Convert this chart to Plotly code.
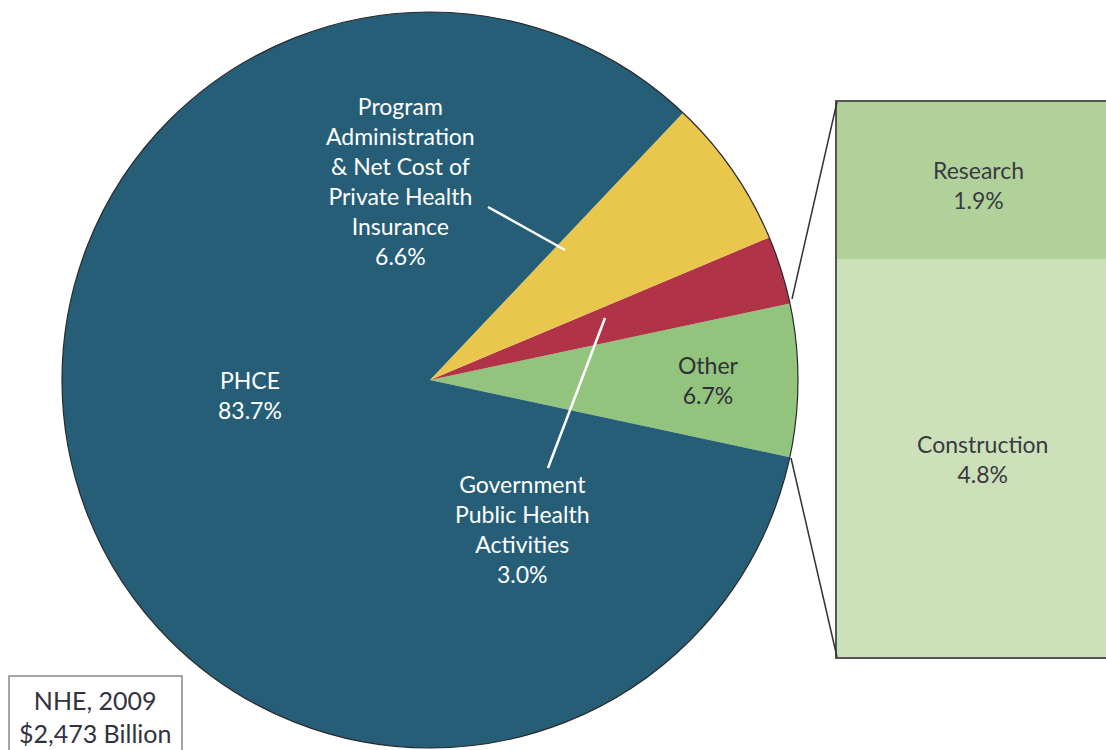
import plotly.graph_objects as go

# ---- data ----
pie_labels = ["Other", "Government Public Health Activities",
              "Program Administration & Net Cost of Private Health Insurance", "PHCE"]
pie_values = [6.7, 3.0, 6.6, 83.7]
pie_colors = ["#93C47D", "#B03347", "#E9C74C", "#265E78"]

other_labels = ["Construction", "Research"]
other_values = [4.8, 1.9]
other_colors = ["#CCE1BA", "#B0D29A"]

W, H = 1106, 750
FONT = "Lato"

def px(x):
    return x / W

def py(y):
    return 1 - y / H

fig = go.Figure()

fig.add_trace(go.Pie(
    labels=pie_labels, values=pie_values, sort=False,
    direction="counterclockwise", rotation=78,
    marker=dict(colors=pie_colors, line=dict(width=0)),
    textinfo="none", hoverinfo="label+percent", showlegend=False,
    domain=dict(x=[px(62), px(798)], y=[py(748), py(12)]),
))
# outline circle
fig.add_trace(go.Pie(
    labels=["NHE"], values=[1], sort=False,
    marker=dict(colors=["rgba(0,0,0,0)"], line=dict(color="#2a2a2a", width=1.2)),
    textinfo="none", hoverinfo="skip", showlegend=False,
    domain=dict(x=[px(62), px(798)], y=[py(748), py(12)]),
))

for lab, val, col in zip(other_labels, other_values, other_colors):
    fig.add_trace(go.Bar(
        x=["Other"], y=[val], name=lab, width=1,
        marker=dict(color=col, line=dict(width=0)),
        xaxis="x2", yaxis="y2", showlegend=False, hoverinfo="name+y",
    ))

fig.update_layout(
    width=W, height=H, margin=dict(l=0, r=0, t=0, b=0),
    paper_bgcolor="white", plot_bgcolor="white",
    barmode="stack",
    font=dict(family=FONT),
    xaxis2=dict(domain=[px(837), 1.0], range=[-0.5, 0.5], showticklabels=False,
                showgrid=False, zeroline=False, showline=True, mirror=True,
                linecolor="#555555", linewidth=1.5, anchor="y2", fixedrange=True),
    yaxis2=dict(domain=[py(657), py(102)], range=[0, sum(other_values)],
                showticklabels=False, showgrid=False, zeroline=False,
                showline=True, mirror=False, linecolor="#555555", linewidth=1.5,
                anchor="x2", fixedrange=True),
)

shapes = [
    # connector lines
    dict(type="line", xref="paper", yref="paper", x0=px(792), y0=py(299), x1=px(837), y1=py(102),
         line=dict(color="#333333", width=1.5)),
    dict(type="line", xref="paper", yref="paper", x0=px(791), y0=py(458), x1=px(837), y1=py(657),
         line=dict(color="#333333", width=1.5)),
    # leader lines
    dict(type="line", xref="paper", yref="paper", x0=px(488), y0=py(207), x1=px(565), y1=py(250),
         line=dict(color="white", width=2.5)),
    dict(type="line", xref="paper", yref="paper", x0=px(548), y0=py(468), x1=px(605), y1=py(318),
         line=dict(color="white", width=2.5)),
    # NHE box
    dict(type="rect", xref="paper", yref="paper", x0=px(9), y0=py(760), x1=px(182), y1=py(676),
         line=dict(color="#888888", width=1.5), fillcolor="white"),
]
fig.update_layout(shapes=shapes)

def ann(text, x, y, color="white", size=23):
    return dict(text=text, x=px(x), y=py(y), xref="paper", yref="paper",
                showarrow=False, xanchor="center", yanchor="middle",
                font=dict(family=FONT, size=size, color=color), align="center")

annotations = [
    ann("Program<br>Administration<br>&amp; Net Cost of<br>Private Health<br>Insurance<br>6.6%", 400, 181),
    ann("PHCE<br>83.7%", 250, 395),
    ann("Other<br>6.7%", 708, 380, color="#2f2f3a"),
    ann("Government<br>Public Health<br>Activities<br>3.0%", 522, 529),
    ann("Research<br>1.9%", 978, 185, color="#3a3a40"),
    ann("Construction<br>4.8%", 982, 459, color="#3a3a40"),
    ann("NHE, 2009<br>$2,473 Billion", 95, 716, color="#333340", size=25),
]
fig.update_layout(annotations=annotations)

fig.write_html("out.html", config={"displayModeBar": False},
               post_script="document.body.style.margin='0';")
